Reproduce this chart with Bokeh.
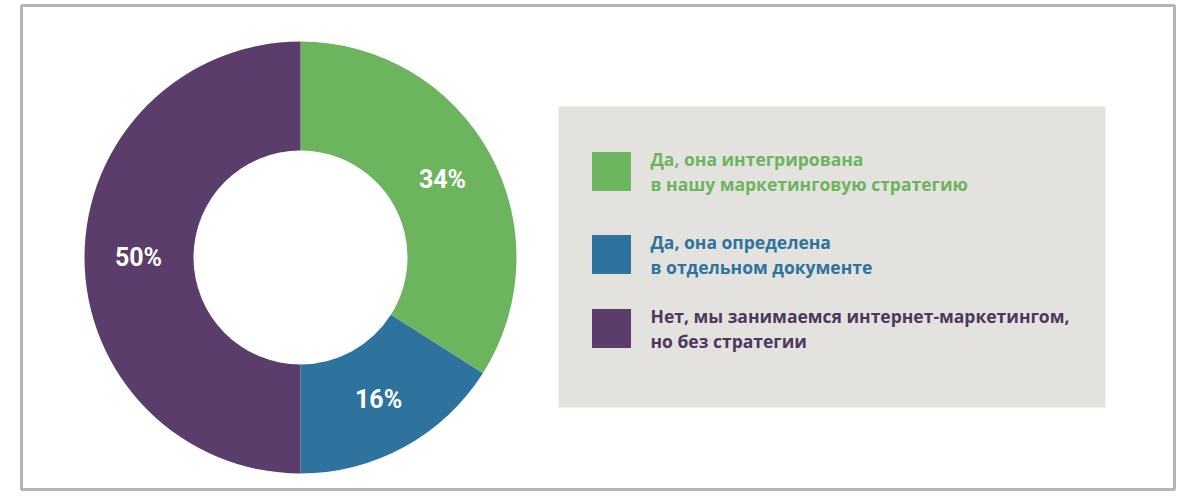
import math
from bokeh.plotting import figure
from bokeh.models import Range1d, ColumnDataSource
from bokeh.core.properties import value
from bokeh.embed import file_html
from bokeh.resources import INLINE

# ---- data ----
categories = [
    ["Да, она интегрирована", "в нашу маркетинговую стратегию"],
    ["Да, она определена", "в отдельном документе"],
    ["Нет, мы занимаемся интернет-маркетингом,", "но без стратегии"],
]
shares = [34, 16, 50]
colors = ["#6cb45e", "#2e729e", "#5a3d6a"]
text_colors = ["#6cb45e", "#2e729e", "#4d3860"]

W, H = 1200, 498
p = figure(width=W, height=H, x_range=Range1d(0, W), y_range=Range1d(0, H),
           output_backend="svg", toolbar_location=None, min_border=0,
           background_fill_color="white", border_fill_color="white")
p.axis.visible = False
p.grid.visible = False
p.outline_line_color = None

def Y(py):
    return H - py

# outer frame
p.quad(left=[21], right=[1174], top=[Y(5)], bottom=[Y(489)],
       fill_color=None, line_color="#b5b5b5", line_width=3)

# donut
cx, cy = 300, Y(257)
r_in, r_out = 107, 216
total = sum(shares)
starts, ends, mids = [], [], []
a = math.pi / 2
for s in shares:
    span = 2 * math.pi * s / total
    starts.append(a - span)
    ends.append(a)
    mids.append(a - span / 2)
    a -= span
src = ColumnDataSource(dict(start=starts, end=ends, color=colors))
p.annular_wedge(x=cx, y=cy, inner_radius=r_in, outer_radius=r_out,
                start_angle="start", end_angle="end", fill_color="color",
                line_color=None, source=src)

r_lab = 162
lx = [cx + r_lab * math.cos(m) for m in mids]
ly = [cy + r_lab * math.sin(m) for m in mids]
p.text(x=lx, y=ly, text=[f"{s}%" for s in shares],
       text_font=value("Roboto"), text_font_style="bold",
       text_font_size="25px", text_color="white",
       text_align="center", text_baseline="middle")

# legend panel
p.quad(left=[558], right=[1105], top=[Y(106)], bottom=[Y(407)],
       fill_color="#e4e2de", line_color=None)
sq_y = [171, 254, 328]
p.rect(x=[611] * 3, y=[Y(v) for v in sq_y], width=39, height=39,
       fill_color=colors, line_color=None)
tx, ty, tt, tc = [], [], [], []
for lines, yc, c in zip(categories, sq_y, text_colors):
    n = len(lines)
    for i, ln in enumerate(lines):
        tx.append(650)
        ty.append(Y(yc + (i - (n - 1) / 2) * 25))
        tt.append(ln)
        tc.append(c)
p.text(x=tx, y=ty, text=tt, text_color=tc,
       text_font=value("Open Sans"), text_font_style="bold",
       text_font_size="17.5px", text_align="left", text_baseline="middle")

open("out.html", "w").write(file_html(p, INLINE))
